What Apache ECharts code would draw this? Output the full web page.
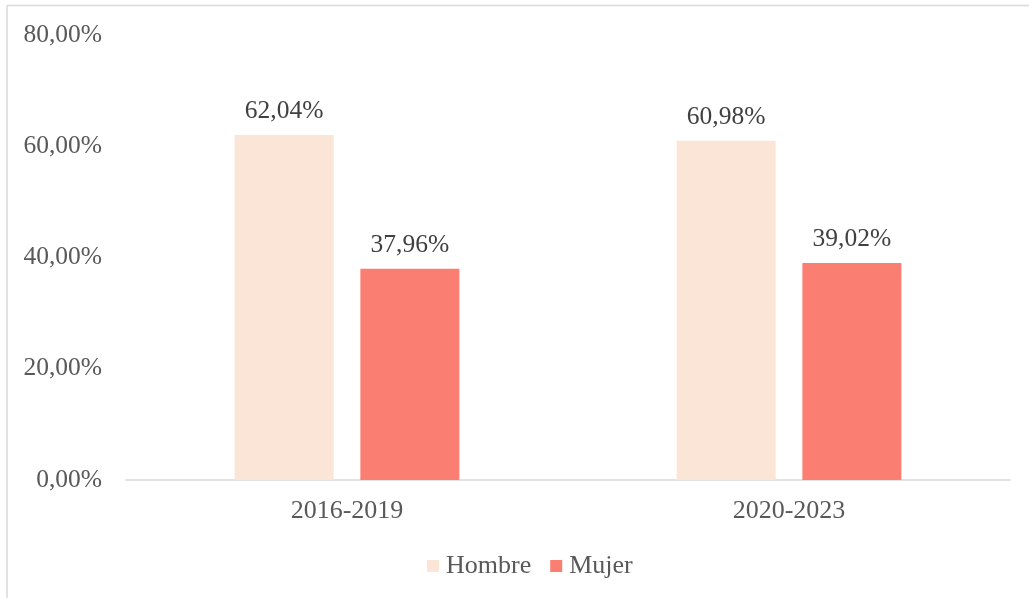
<!DOCTYPE html>
<html>
<head>
<meta charset="utf-8">
<script src="https://cdn.jsdelivr.net/npm/echarts@6/dist/echarts.min.js"></script>
<style>
html,body{margin:0;padding:0;background:#fff;}
#chart{width:1029px;height:598px;}
</style>
</head>
<body>
<div id="chart"></div>
<script>
var categories = ['2016-2019', '2020-2023'];
var hombre = [62.04, 60.98];
var mujer = [37.96, 39.02];
var seriesNames = ['Hombre', 'Mujer'];
var yTicks = [0, 20, 40, 60, 80];

function fmt(v) {
  return v.toFixed(2).replace('.', ',') + '%';
}

var FONT = 'Liberation Serif';
var FS = 25.5;
var FST = 26;
var chart = echarts.init(document.getElementById('chart'), null, {renderer: 'canvas'});
chart.setOption({
  backgroundColor: '#ffffff',
  animation: false,
  textStyle: {fontFamily: FONT},
  graphic: [{
    type: 'line',
    shape: {x1: 7, y1: 5.5, x2: 1040, y2: 5.5},
    style: {stroke: '#d9d9d9', lineWidth: 1.5},
    silent: true
  }, {
    type: 'line',
    shape: {x1: 7, y1: 5.5, x2: 7, y2: 610},
    style: {stroke: '#d9d9d9', lineWidth: 1.5},
    silent: true
  }],
  grid: {left: 126, right: 19, top: 35, bottom: 118, containLabel: false},
  legend: {
    data: seriesNames,
    top: 548,
    left: 422,
    itemWidth: 12,
    itemHeight: 12,
    itemGap: 19,
    icon: 'rect',
    textStyle: {fontFamily: FONT, fontSize: FST, color: '#595959', padding: [0, 0, 0, 2]}
  },
  xAxis: {
    type: 'category',
    data: categories,
    axisTick: {show: false},
    axisLine: {lineStyle: {color: '#d9d9d9', width: 1.5}},
    axisLabel: {fontFamily: FONT, fontSize: FST, color: '#595959', margin: 18}
  },
  yAxis: {
    type: 'value',
    min: yTicks[0],
    max: yTicks[yTicks.length - 1],
    interval: 20,
    splitLine: {show: false},
    axisLine: {show: false},
    axisTick: {show: false},
    axisLabel: {fontFamily: FONT, fontSize: FS, color: '#595959', margin: 24,
      formatter: function (v) { return fmt(v); }}
  },
  series: [{
    name: seriesNames[0],
    type: 'bar',
    data: hombre,
    barWidth: 99,
    barGap: '27%',
    itemStyle: {color: '#FBE5D6'},
    label: {show: true, position: 'top', distance: 11, fontFamily: FONT, fontSize: FS, color: '#404040',
      formatter: function (p) { return fmt(p.value); }}
  }, {
    name: seriesNames[1],
    type: 'bar',
    data: mujer,
    barWidth: 99,
    barGap: '27%',
    itemStyle: {color: '#FA7F72'},
    label: {show: true, position: 'top', distance: 11, fontFamily: FONT, fontSize: FS, color: '#404040',
      formatter: function (p) { return fmt(p.value); }}
  }]
});
</script>
</body>
</html>
